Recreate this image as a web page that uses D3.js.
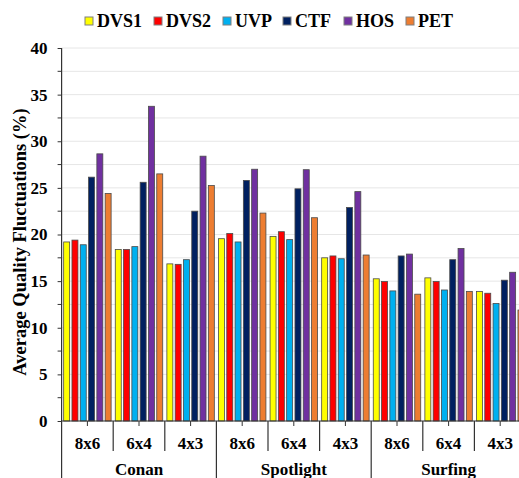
<!DOCTYPE html>
<html><head><meta charset="utf-8">
<script src="https://cdnjs.cloudflare.com/ajax/libs/d3/7.8.5/d3.min.js"></script>
<style>body{margin:0;background:#fff}svg{display:block}</style>
</head><body>
<script>
const videos = ["Conan", "Spotlight", "Surfing"];
const tiles = ["8x6", "6x4", "4x3"];
const series = ["DVS1", "DVS2", "UVP", "CTF", "HOS", "PET"];
const colors = ["#FFFF00", "#FF0000", "#00B0F0", "#002060", "#7030A0", "#ED7D31"];
// values per series, ordered Conan(8x6,6x4,4x3), Spotlight(...), Surfing(...)
const DVS1 = [19.2, 18.4, 16.85, 19.55, 19.8, 17.5, 15.25, 15.35, 13.9];
const DVS2 = [19.4, 18.4, 16.8, 20.1, 20.3, 17.7, 14.95, 14.95, 13.7];
const UVP  = [18.9, 18.7, 17.3, 19.2, 19.45, 17.4, 13.95, 14.05, 12.6];
const CTF  = [26.15, 25.6, 22.5, 25.8, 24.9, 22.9, 17.7, 17.3, 15.1];
const HOS  = [28.65, 33.75, 28.4, 27.0, 26.95, 24.6, 17.9, 18.5, 15.95];
const PET  = [24.4, 26.5, 25.25, 22.3, 21.8, 17.8, 13.6, 13.9, 11.9];
const values = [DVS1, DVS2, UVP, CTF, HOS, PET];
const yTicks = [0, 5, 10, 15, 20, 25, 30, 35, 40];

const W = 519, H = 478;
const x0 = 61.6, step = 51.6;
const svg = d3.select("body").append("svg").attr("width", W).attr("height", H);
const font = "'Liberation Serif','Times New Roman',serif";

const cats = [];
videos.forEach(v => tiles.forEach(t => cats.push(v + "|" + t)));
const xOuter = d3.scaleBand().domain(cats).range([x0, x0 + step * cats.length]).padding(0);
const xInner = d3.scaleBand().domain(series).range([0, xOuter.bandwidth()]).paddingInner(0.28).paddingOuter(0.25);
const y = d3.scaleLinear().domain([0, 40]).range([421, 48]);

// gridlines every 2.5
const grid = d3.range(2.5, 40.01, 2.5);
svg.append("g").selectAll("line").data(grid).join("line")
  .attr("x1", x0).attr("x2", W).attr("y1", d => y(d)).attr("y2", d => y(d))
  .attr("stroke", "#e6e6e6").attr("stroke-width", 1);

// bars
const gBars = svg.append("g");
series.forEach((s, si) => {
  gBars.append("g").selectAll("rect").data(values[si]).join("rect")
    .attr("x", (d, i) => xOuter(cats[i]) + xInner(s))
    .attr("width", xInner.bandwidth())
    .attr("y", d => y(d))
    .attr("height", d => y(0) - y(d))
    .attr("fill", colors[si])
    .attr("stroke", "#4a4a4a").attr("stroke-width", 0.8);
});

// y axis
const yAxis = d3.axisLeft(y).tickValues(yTicks).tickSize(4).tickPadding(10).tickFormat(d3.format("d"));
const ga = svg.append("g").attr("transform", `translate(${x0},0)`).call(yAxis);
ga.select(".domain").remove();
ga.selectAll("text").attr("font-family", font).attr("font-weight", "bold").attr("font-size", 17).attr("fill", "#000");
ga.selectAll("line").attr("stroke", "#333");
// minor ticks
svg.append("g").selectAll("line").data(d3.range(2.5, 40, 5)).join("line")
  .attr("x1", x0 - 4).attr("x2", x0).attr("y1", d => y(d)).attr("y2", d => y(d)).attr("stroke", "#333");
// axis lines
svg.append("line").attr("x1", x0).attr("x2", x0).attr("y1", y(40)).attr("y2", H).attr("stroke", "#333").attr("stroke-width", 1.2);
svg.append("line").attr("x1", x0).attr("x2", W).attr("y1", y(0)).attr("y2", y(0)).attr("stroke", "#333").attr("stroke-width", 1.2);

// category ticks & separators
const gx = svg.append("g");
cats.forEach((c, i) => {
  const left = xOuter(c);
  gx.append("line").attr("x1", left + xOuter.bandwidth() / 2).attr("x2", left + xOuter.bandwidth() / 2)
    .attr("y1", y(0)).attr("y2", y(0) + 5).attr("stroke", "#333");
  if (i > 0) {
    const isGroup = i % 3 === 0;
    gx.append("line").attr("x1", left).attr("x2", left).attr("y1", y(0)).attr("y2", isGroup ? H : 451)
      .attr("stroke", "#333").attr("stroke-width", 1.2);
  }
  gx.append("text").attr("x", left + xOuter.bandwidth() / 2).attr("y", 449)
    .attr("text-anchor", "middle").attr("font-family", font).attr("font-weight", "bold").attr("font-size", 17)
    .text(c.split("|")[1]);
});
videos.forEach((v) => {
  const l = xOuter(v + "|" + tiles[0]), r = xOuter(v + "|" + tiles[2]) + xOuter.bandwidth();
  gx.append("text").attr("x", (l + r) / 2).attr("y", 475)
    .attr("text-anchor", "middle").attr("font-family", font).attr("font-weight", "bold").attr("font-size", 17)
    .text(v);
});

// y label
svg.append("text").attr("transform", `translate(26,242) rotate(-90)`)
  .attr("text-anchor", "middle").attr("font-family", font).attr("font-weight", "bold").attr("font-size", 18.5)
  .text("Average Quality Fluctuations (%)");

// legend
const legX = [85, 154, 223, 283, 344, 406];
const lg = svg.append("g");
series.forEach((s, i) => {
  lg.append("rect").attr("x", legX[i]).attr("y", 17).attr("width", 8).attr("height", 8)
    .attr("fill", colors[i]).attr("stroke", "#7f7f7f").attr("stroke-width", 1);
  lg.append("text").attr("x", legX[i] + 12).attr("y", 27).attr("font-family", font)
    .attr("font-weight", "bold").attr("font-size", 18).text(s);
});
</script>
</body></html>
